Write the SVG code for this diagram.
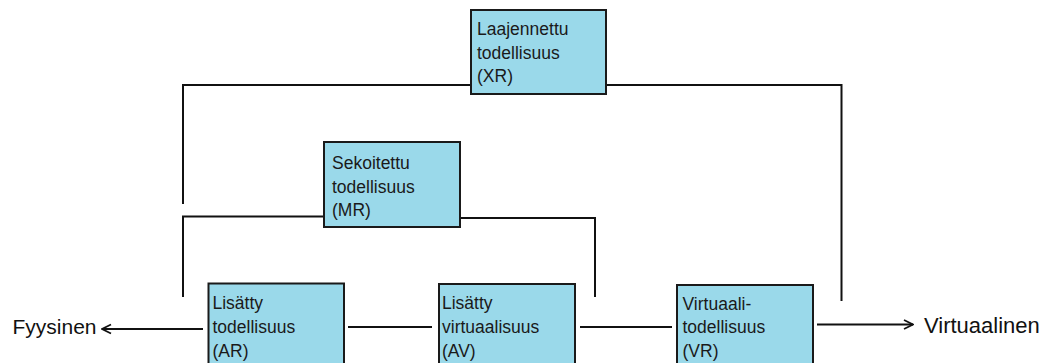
<svg xmlns="http://www.w3.org/2000/svg" width="1046" height="363" viewBox="0 0 1046 363">
<style>
.box{fill:#9ad9ea;stroke:#1a1a1a;stroke-width:2}
.t{font-family:"Liberation Sans",Arial,sans-serif;font-size:17.5px;fill:#1a1a1a}
.lbl{font-family:"Liberation Sans",Arial,sans-serif;font-size:21px;fill:#111}
.ln{stroke:#111;stroke-width:2;fill:none}
</style>
<defs>
<marker id="arr" viewBox="0 0 12 12" refX="11" refY="6" markerWidth="12" markerHeight="12" markerUnits="userSpaceOnUse" orient="auto">
<path d="M2,1.5 L11,6 L2,10.5" fill="none" stroke="#111" stroke-width="1.8"/>
</marker>
</defs>
<rect width="1046" height="363" fill="#fff"/>
<g id="connectors">
<path class="ln" d="M183,204 V85 H471"/>
<path class="ln" d="M606,85 H841.5 V301"/>
<path class="ln" d="M183,297 V216.5 H324"/>
<path class="ln" d="M460,218 H595 V297"/>
<line class="ln" x1="348" y1="327" x2="432" y2="327"/>
<line class="ln" x1="580" y1="327" x2="672" y2="327"/>
<line class="ln" x1="203" y1="329" x2="102" y2="329" marker-end="url(#arr)"/>
<line class="ln" x1="817" y1="324.5" x2="913" y2="324.5" marker-end="url(#arr)"/>
</g>
<g id="xr">
<rect class="box" x="471" y="10" width="135" height="84"/>
<text class="t" x="477" y="35">Laajennettu</text>
<text class="t" x="477" y="58.5">todellisuus</text>
<text class="t" x="477" y="82">(XR)</text>
</g>
<g id="mr">
<rect class="box" x="324" y="142" width="136" height="85"/>
<text class="t" x="332" y="169">Sekoitettu</text>
<text class="t" x="332" y="192.5">todellisuus</text>
<text class="t" x="332" y="216">(MR)</text>
</g>
<g id="ar">
<rect class="box" x="208.5" y="283.5" width="135.5" height="90"/>
<text class="t" x="212.5" y="309">Lisätty</text>
<text class="t" x="212.5" y="333">todellisuus</text>
<text class="t" x="212.5" y="356.5">(AR)</text>
</g>
<g id="av">
<rect class="box" x="439" y="284" width="136" height="90"/>
<text class="t" x="442" y="309">Lisätty</text>
<text class="t" x="442" y="333">virtuaalisuus</text>
<text class="t" x="442" y="356.5">(AV)</text>
</g>
<g id="vr">
<rect class="box" x="677" y="285" width="136" height="90"/>
<text class="t" x="682.5" y="309.5">Virtuaali-</text>
<text class="t" x="682.5" y="333">todellisuus</text>
<text class="t" x="682.5" y="356.5">(VR)</text>
</g>
<g id="fyysinen">
<text class="lbl" x="12.5" y="334">Fyysinen</text>
</g>
<g id="virtuaalinen">
<text class="lbl" x="924" y="333" style="font-size:22px">Virtuaalinen</text>
</g>
</svg>
